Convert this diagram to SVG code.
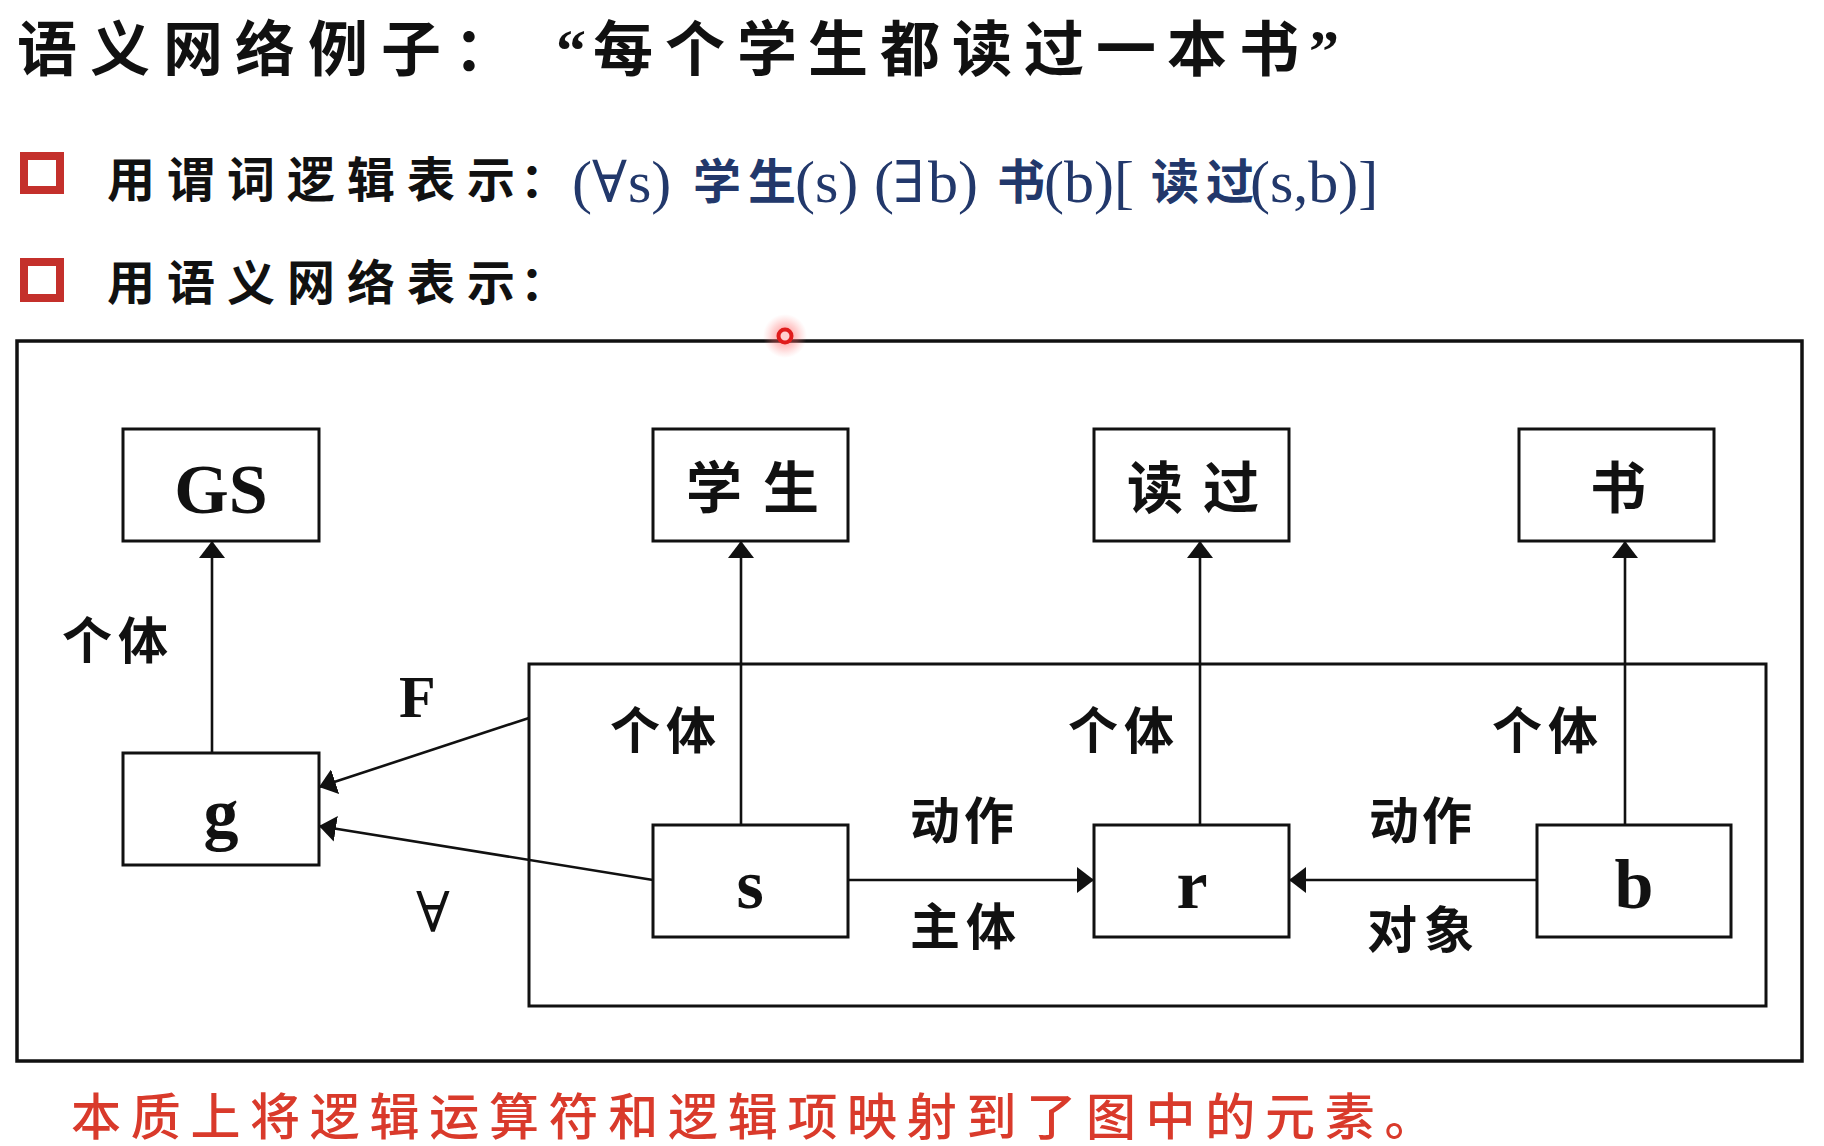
<svg xmlns="http://www.w3.org/2000/svg" width="1824" height="1146" viewBox="0 0 1824 1146">
<style>
  .cjk { font-family: "Noto Sans CJK SC", "Noto Sans", sans-serif; }
  .title { font-size: 60px; font-weight: 700; fill: #111; }
  .row { font-size: 48px; font-weight: 700; fill: #111; }
  .formula { font-family: "Liberation Serif", "DejaVu Serif", serif; font-size: 60px; fill: #22386b; }
  .fcjk { font-family: "Noto Sans CJK SC", sans-serif; font-size: 48px; font-weight: 700; }
  .q { font-family: "DejaVu Serif", "Liberation Serif", serif; font-size: 58px; }
  .box { fill: #fff; stroke: #111; stroke-width: 3; }
  .frame { fill: none; stroke: #111; stroke-width: 3.5; }
  .edge { fill: none; stroke: #111; stroke-width: 2.6; marker-end: url(#arrow); }
  .nlat { font-family: "Liberation Serif", "Times New Roman", serif; font-weight: 700; font-size: 70px; fill: #111; text-anchor: middle; }
  .ncjk { font-family: "Noto Sans CJK SC", sans-serif; font-weight: 700; font-size: 56px; fill: #111; }
  .elab { font-family: "Noto Sans CJK SC", sans-serif; font-weight: 700; font-size: 50px; fill: #111; }
  .bullet { fill: #fff; stroke: #c4302b; stroke-width: 8; }
  .note { font-family: "Noto Sans CJK SC", sans-serif; font-size: 50px; font-weight: 500; fill: #d93a2b; letter-spacing: 9.7px; }
</style>
<defs>
  <marker id="arrow" markerUnits="userSpaceOnUse" markerWidth="17" markerHeight="26" refX="17" refY="13" orient="auto">
    <path d="M0,0 L17,13 L0,26 z" fill="#111"/>
  </marker>
  <radialGradient id="glow">
    <stop offset="0" stop-color="#ff3030" stop-opacity="0.6"/>
    <stop offset="0.6" stop-color="#ff7070" stop-opacity="0.3"/>
    <stop offset="1" stop-color="#ff9090" stop-opacity="0"/>
  </radialGradient>
</defs>
<rect width="1824" height="1146" fill="#fff"/>

<g id="title">
  <text class="cjk title" y="71" x="17 90 163 235 308 381 454">语义网络例子：</text>
  <text class="title" y="71" font-family="Liberation Serif, serif" x="556">“</text>
  <text class="cjk title" y="71" x="593 665 737 808 880 952 1024 1096 1167 1239">每个学生都读过一本书</text>
  <text class="title" y="71" font-family="Liberation Serif, serif" x="1309">”</text>
</g>

<g id="line-predicate">
  <rect class="bullet" x="24" y="156" width="36" height="34"/>
  <text class="cjk row" x="107 167 227 287 347 407 467 520" y="197">用谓词逻辑表示：</text>
  <text class="formula" y="202">
    <tspan x="572">(</tspan><tspan class="q" x="592">∀</tspan><tspan x="628">s)</tspan><tspan class="fcjk" x="693" y="199">学</tspan><tspan class="fcjk" x="748" y="199">生</tspan><tspan x="795" y="202">(s)</tspan><tspan x="874">(</tspan><tspan class="q" x="893">∃</tspan><tspan x="928">b)</tspan><tspan class="fcjk" x="997" y="199">书</tspan><tspan x="1044" y="202">(b)[</tspan><tspan class="fcjk" x="1151" y="199">读</tspan><tspan class="fcjk" x="1206" y="199">过</tspan><tspan x="1250" y="202">(s,b)]</tspan>
  </text>
</g>

<g id="line-network">
  <rect class="bullet" x="24" y="262" width="36" height="36"/>
  <text class="cjk row" x="107 167 227 287 347 407 467 520" y="300">用语义网络表示：</text>
</g>

<g id="frame">
  <rect class="frame" x="17" y="341" width="1785" height="720"/>
</g>

<g id="pointer">
  <circle cx="785" cy="336" r="22" fill="url(#glow)"/>
  <circle cx="785" cy="336" r="6.5" fill="#ffd0d0" stroke="#e01c1c" stroke-width="4"/>
</g>

<g id="inner-group">
  <rect class="box" x="529" y="664" width="1237" height="342" fill="none"/>
</g>

<g id="connectors">
  <path class="edge" d="M212,753 L212,541"/>
  <path class="edge" d="M741,825 L741,541"/>
  <path class="edge" d="M1200,825 L1200,541"/>
  <path class="edge" d="M1625,825 L1625,541"/>
  <path class="edge" d="M848,880 L1094,880"/>
  <path class="edge" d="M1537,880 L1289,880"/>
  <path class="edge" d="M529,718 L319,787"/>
  <path class="edge" d="M653,880 L319,826"/>
  <text class="elab" x="62 118" y="659">个体</text>
  <text class="elab" x="610 666" y="749">个体</text>
  <text class="elab" x="1068 1124" y="749">个体</text>
  <text class="elab" x="1492 1548" y="749">个体</text>
  <text class="elab" x="910 964" y="839">动作</text>
  <text class="elab" x="910 966" y="945">主体</text>
  <text class="elab" x="1369 1422" y="839">动作</text>
  <text class="elab" x="1367 1424" y="948">对象</text>
  <text x="399" y="717" font-family="Liberation Serif, serif" font-weight="700" font-size="60" fill="#111">F</text>
  <text x="433" y="932" font-family="Liberation Serif, DejaVu Serif, serif" font-size="56" fill="#111" text-anchor="middle">∀</text>
</g>

<g id="node-GS">
  <rect class="box" x="123" y="429" width="196" height="112"/>
  <text class="nlat" x="221" y="513">GS</text>
</g>
<g id="node-student">
  <rect class="box" x="653" y="429" width="195" height="112"/>
  <text class="ncjk" x="686 763" y="508">学生</text>
</g>
<g id="node-read">
  <rect class="box" x="1094" y="429" width="195" height="112"/>
  <text class="ncjk" x="1127 1203" y="508">读过</text>
</g>
<g id="node-book">
  <rect class="box" x="1519" y="429" width="195" height="112"/>
  <text class="ncjk" x="1590" y="508">书</text>
</g>
<g id="node-g">
  <rect class="box" x="123" y="753" width="196" height="112"/>
  <text class="nlat" x="221" y="837">g</text>
</g>
<g id="node-s">
  <rect class="box" x="653" y="825" width="195" height="112"/>
  <text class="nlat" x="750" y="908">s</text>
</g>
<g id="node-r">
  <rect class="box" x="1094" y="825" width="195" height="112"/>
  <text class="nlat" x="1192" y="908">r</text>
</g>
<g id="node-b">
  <rect class="box" x="1537" y="825" width="194" height="112"/>
  <text class="nlat" x="1634" y="908">b</text>
</g>

<g id="note">
  <text class="note" x="71" y="1135">本质上将逻辑运算符和逻辑项映射到了图中的元素。</text>
</g>
</svg>
